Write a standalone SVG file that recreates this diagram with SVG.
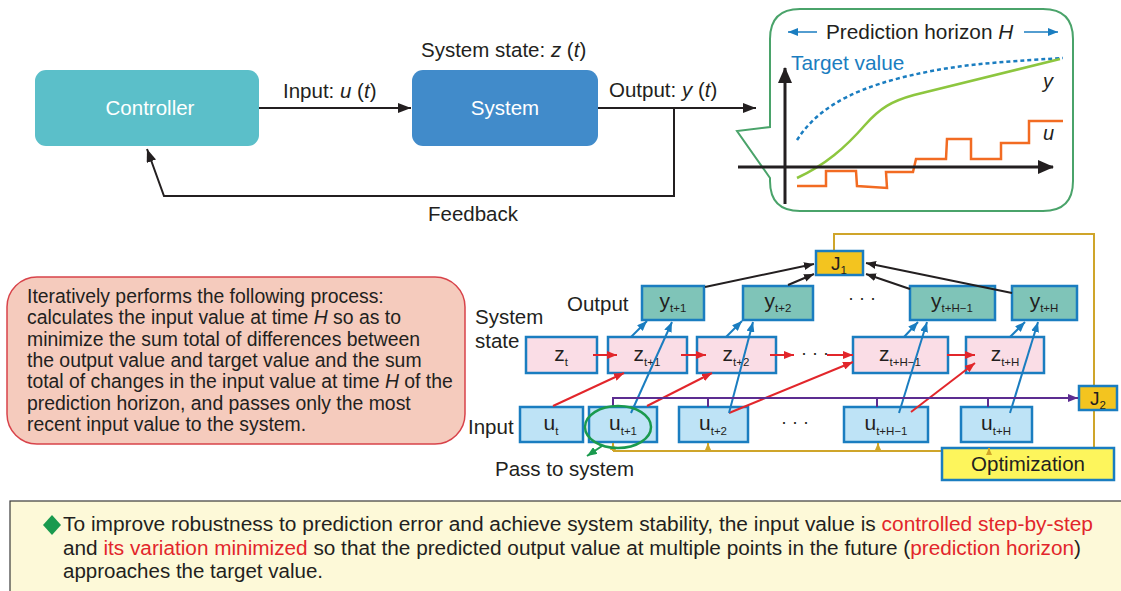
<svg xmlns="http://www.w3.org/2000/svg" width="1121" height="591" viewBox="0 0 1121 591">
<style>
text{font-family:"Liberation Sans",Arial,sans-serif;fill:#231f20}
.lbl{font-size:20.5px}
.it{font-style:italic}
.wh{fill:#fff;font-size:20.5px}
.bx{stroke:#1a7dc0;stroke-width:2.5}
.yb{fill:#7fc4b8}
.zb{fill:#fadde6}
.ub{fill:#bee3f6}
.jb{fill:#f3c41f}
.nt{font-size:21px;text-anchor:middle}
.sub{font-size:11.5px}
.ln{fill:none;stroke-width:2}
.k{stroke:#231f20}
.r{stroke:#e2262b}
.b{stroke:#1a7dc0}
.p{stroke:#5c2d91}
.g{stroke:#cfa52a}
.body{font-size:19.4px}
.note{font-size:20px}
.red{fill:#e2262b}
</style>
<defs>
<marker id="mk" markerWidth="13" markerHeight="10" refX="13" refY="5" orient="auto" markerUnits="userSpaceOnUse"><path d="M0,0 L13,5 L0,10 z" fill="#231f20"/></marker>
<marker id="mkax" markerWidth="16" markerHeight="14" refX="15" refY="7" orient="auto" markerUnits="userSpaceOnUse"><path d="M0,0 L16,7 L0,14 z" fill="#231f20"/></marker>
<marker id="mk2" markerWidth="10" markerHeight="8" refX="10" refY="4" orient="auto" markerUnits="userSpaceOnUse"><path d="M0,0 L10,4 L0,8 z" fill="#231f20"/></marker>
<marker id="mr" markerWidth="10" markerHeight="8" refX="10" refY="4" orient="auto" markerUnits="userSpaceOnUse"><path d="M0,0 L10,4 L0,8 z" fill="#e2262b"/></marker>
<marker id="mb" markerWidth="10" markerHeight="8" refX="10" refY="4" orient="auto" markerUnits="userSpaceOnUse"><path d="M0,0 L10,4 L0,8 z" fill="#1a7dc0"/></marker>
<marker id="mp" markerWidth="10" markerHeight="8" refX="10" refY="4" orient="auto" markerUnits="userSpaceOnUse"><path d="M0,0 L10,4 L0,8 z" fill="#5c2d91"/></marker>
<marker id="mg" markerWidth="7" markerHeight="6" refX="7" refY="3" orient="auto" markerUnits="userSpaceOnUse"><path d="M0,0 L7,3 L0,6 z" fill="#cfa52a"/></marker>
<marker id="mgr" markerWidth="10" markerHeight="8" refX="10" refY="4" orient="auto" markerUnits="userSpaceOnUse"><path d="M0,0 L10,4 L0,8 z" fill="#1a9a4e"/></marker>
</defs>
<rect width="1121" height="591" fill="#fff"/>

<!-- top connectors -->
<g id="top-connectors" class="ln">
<line x1="259" y1="108" x2="411" y2="108" class="k" stroke-width="2" marker-end="url(#mk)"/>
<line x1="598" y1="108" x2="756" y2="108" class="k" stroke-width="2" marker-end="url(#mk)"/>
<polyline points="674,108 674,196 164,196 147,149" class="k" stroke-width="2" fill="none" marker-end="url(#mk)"/>
</g>
<text x="283" y="98" class="lbl">Input: <tspan class="it">u</tspan> (<tspan class="it">t</tspan>)</text>
<text x="421" y="57" class="lbl">System state: <tspan class="it">z</tspan> (<tspan class="it">t</tspan>)</text>
<text x="609" y="97" class="lbl">Output: <tspan class="it">y</tspan> (<tspan class="it">t</tspan>)</text>
<text x="473" y="221" class="lbl" text-anchor="middle">Feedback</text>

<g id="controller">
<rect x="35" y="70" width="224" height="76" rx="11" fill="#5bbfc9"/>
<text x="150" y="115" class="wh" text-anchor="middle">Controller</text>
</g>
<g id="system">
<rect x="412" y="70" width="186" height="76" rx="11" fill="#418bca"/>
<text x="505" y="115" class="wh" text-anchor="middle">System</text>
</g>

<!-- chart callout -->
<g id="chart">
<path d="M800,9 H1043 Q1073,9 1073,39 V181 Q1073,211 1043,211 H800 Q770,211 770,181 V178 L737,131 L770,127 V39 Q770,9 800,9 Z" fill="#fff" stroke="#4aa36a" stroke-width="2"/>
<text x="826" y="39" font-size="20.8">Prediction horizon <tspan class="it">H</tspan></text>
<line x1="817" y1="32" x2="788" y2="32" class="b" stroke-width="1.5" marker-end="url(#mb)"/>
<line x1="1024" y1="32" x2="1058" y2="32" class="b" stroke-width="1.5" marker-end="url(#mb)"/>
<text x="791" y="70" font-size="20.8" style="fill:#1a7dc0">Target value</text>
<path d="M797,140 C815,112 845,92 900,78 S1000,62 1063,58" fill="none" stroke="#1a7dc0" stroke-width="2.5" stroke-dasharray="4 3"/>
<path d="M797,178 C825,165 845,148 865,125 C880,108 892,101 914,95 L1060,59" fill="none" stroke="#8dc63f" stroke-width="2.5"/>
<polyline points="797,186 826,186 826,171 856,171 857,186 887,188 886,172 913,172 916,159 946,159 947,139 971,139 971,159 1001,159 1001,143 1029,143 1029,121 1063,121" fill="none" stroke="#f26b22" stroke-width="2.5"/>
<line x1="785" y1="204" x2="785" y2="68" stroke="#231f20" stroke-width="3" marker-end="url(#mkax)"/>
<line x1="738" y1="167" x2="1053" y2="167" stroke="#231f20" stroke-width="3" marker-end="url(#mkax)"/>
<text x="1043" y="88" font-size="20" class="it">y</text>
<text x="1043" y="140" font-size="20" class="it">u</text>
</g>

<!-- left explanation -->
<g id="explanation">
<rect x="7" y="277" width="458" height="167" rx="30" fill="#f5cbbd" stroke="#d8434a" stroke-width="1.5"/>
<text class="body">
<tspan x="27" y="303">Iteratively performs the following process:</tspan>
<tspan x="27" y="324">calculates the input value at time <tspan class="it">H</tspan> so as to</tspan>
<tspan x="27" y="346">minimize the sum total of differences between</tspan>
<tspan x="27" y="367">the output value and target value and the sum</tspan>
<tspan x="27" y="388">total of changes in the input value at time <tspan class="it">H</tspan> of the</tspan>
<tspan x="27" y="410">prediction horizon, and passes only the most</tspan>
<tspan x="27" y="431">recent input value to the system.</tspan>
</text>
</g>

<!-- row labels -->
<text x="567" y="311" class="lbl">Output</text>
<text x="475" y="324" class="lbl">System</text>
<text x="475" y="348" class="lbl">state</text>
<text x="468" y="434" class="lbl">Input</text>
<text x="495" y="476" class="lbl">Pass to system</text>
<text x="862" y="304" font-size="18" text-anchor="middle">· · ·</text>
<text x="795" y="428" font-size="18" text-anchor="middle">· · ·</text>
<text x="815" y="359" font-size="18" text-anchor="middle">· · ·</text>

<!-- gold loop line (behind boxes) -->
<g id="loop" class="ln">
<polyline points="834,251 834,234 1094,234 1094,448" class="g" stroke-width="2" fill="none"/>
<line x1="942" y1="451" x2="613" y2="451" class="g" stroke-width="2"/>
</g>

<!-- nodes -->
<g id="J1"><rect x="816" y="251" width="47" height="24" class="bx jb"/><text x="839" y="270" class="nt" style="font-size:19px">J<tspan dy="4" class="sub">1</tspan></text></g>
<g id="J2"><rect x="1079" y="386" width="38" height="24" class="bx jb"/><text x="1098" y="405" class="nt" style="font-size:19px">J<tspan dy="4" class="sub">2</tspan></text></g>
<g id="y1"><rect x="642" y="286" width="62" height="34" class="bx yb"/><text x="673" y="308" class="nt">y<tspan dy="4" class="sub">t+1</tspan></text></g>
<g id="y2"><rect x="743" y="286" width="70" height="34" class="bx yb"/><text x="778" y="308" class="nt">y<tspan dy="4" class="sub">t+2</tspan></text></g>
<g id="yH1"><rect x="910" y="286" width="85" height="34" class="bx yb"/><text x="952" y="308" class="nt">y<tspan dy="4" class="sub">t+H−1</tspan></text></g>
<g id="yH"><rect x="1012" y="286" width="65" height="34" class="bx yb"/><text x="1044" y="308" class="nt">y<tspan dy="4" class="sub">t+H</tspan></text></g>
<g id="z0"><rect x="526" y="337" width="71" height="36" class="bx zb"/><text x="561" y="361" class="nt">z<tspan dy="5" class="sub">t</tspan></text></g>
<g id="z1"><rect x="608" y="337" width="79" height="36" class="bx zb"/><text x="647" y="361" class="nt">z<tspan dy="5" class="sub">t+1</tspan></text></g>
<g id="z2"><rect x="697" y="337" width="79" height="36" class="bx zb"/><text x="736" y="361" class="nt">z<tspan dy="5" class="sub">t+2</tspan></text></g>
<g id="zH1"><rect x="853" y="337" width="95" height="36" class="bx zb"/><text x="900" y="361" class="nt">z<tspan dy="5" class="sub">t+H−1</tspan></text></g>
<g id="zH"><rect x="966" y="337" width="78" height="36" class="bx zb"/><text x="1005" y="361" class="nt">z<tspan dy="5" class="sub">t+H</tspan></text></g>
<g id="u0"><rect x="520" y="407" width="63" height="35" class="bx ub"/><text x="551" y="430" class="nt">u<tspan dy="5" class="sub">t</tspan></text></g>
<g id="u1"><rect x="589" y="407" width="68" height="35" class="bx ub"/><text x="623" y="430" class="nt">u<tspan dy="5" class="sub">t+1</tspan></text></g>
<g id="u2"><rect x="679" y="407" width="69" height="35" class="bx ub"/><text x="713" y="430" class="nt">u<tspan dy="5" class="sub">t+2</tspan></text></g>
<g id="uH1"><rect x="844" y="407" width="84" height="35" class="bx ub"/><text x="886" y="430" class="nt">u<tspan dy="5" class="sub">t+H−1</tspan></text></g>
<g id="uH"><rect x="961" y="407" width="71" height="35" class="bx ub"/><text x="996" y="430" class="nt">u<tspan dy="5" class="sub">t+H</tspan></text></g>
<g id="optimization"><rect x="942" y="448" width="172" height="32" class="bx" fill="#fdf55c"/><text x="1028" y="471" class="nt" style="font-size:20.5px">Optimization</text></g>

<!-- connectors -->
<g id="connectors" class="ln">
<line x1="593" y1="355" x2="617" y2="355" class="r" marker-end="url(#mr)"/>
<line x1="681" y1="355" x2="706" y2="355" class="r" marker-end="url(#mr)"/>
<line x1="770" y1="355" x2="794" y2="355" class="r" marker-end="url(#mr)"/>
<line x1="827" y1="355" x2="853" y2="355" class="r" marker-end="url(#mr)"/>
<line x1="947" y1="355" x2="975" y2="355" class="r" marker-end="url(#mr)"/>
<line x1="553" y1="406" x2="624" y2="373" class="r" marker-end="url(#mr)"/>
<line x1="647" y1="406" x2="712" y2="373" class="r" marker-end="url(#mr)"/>
<line x1="729" y1="413" x2="853" y2="362" class="r" marker-end="url(#mr)"/>
<line x1="911" y1="412" x2="975" y2="363" class="r" marker-end="url(#mr)"/>
<line x1="631" y1="337" x2="647" y2="321" class="b" marker-end="url(#mb)"/>
<line x1="631" y1="413" x2="672" y2="322" class="b" marker-end="url(#mb)"/>
<line x1="726" y1="337" x2="742" y2="321" class="b" marker-end="url(#mb)"/>
<line x1="729" y1="413" x2="753" y2="322" class="b" marker-end="url(#mb)"/>
<line x1="904" y1="337" x2="918" y2="322" class="b" marker-end="url(#mb)"/>
<line x1="899" y1="413" x2="927" y2="322" class="b" marker-end="url(#mb)"/>
<line x1="1010" y1="337" x2="1025" y2="322" class="b" marker-end="url(#mb)"/>
<line x1="1010" y1="413" x2="1038" y2="322" class="b" marker-end="url(#mb)"/>
<line x1="705" y1="287" x2="814" y2="264" class="k" marker-end="url(#mk2)"/>
<line x1="788" y1="285" x2="814" y2="274" class="k" marker-end="url(#mk2)"/>
<line x1="910" y1="289" x2="866" y2="274" class="k" marker-end="url(#mk2)"/>
<line x1="1012" y1="293" x2="866" y2="263" class="k" marker-end="url(#mk2)"/>
<polyline points="613,407 613,398 1078,398" class="p" fill="none" marker-end="url(#mp)"/>
<line x1="708" y1="398" x2="708" y2="407" class="p"/>
<line x1="877" y1="398" x2="877" y2="407" class="p"/>
<line x1="988" y1="398" x2="988" y2="407" class="p"/>
<line x1="613" y1="451" x2="613" y2="443" class="g" marker-end="url(#mg)"/>
<line x1="708" y1="451" x2="708" y2="443" class="g" marker-end="url(#mg)"/>
<line x1="878" y1="451" x2="878" y2="443" class="g" marker-end="url(#mg)"/>
<line x1="989" y1="451" x2="989" y2="448" class="g" marker-end="url(#mg)"/>
<ellipse cx="618" cy="427" rx="33" ry="21" fill="none" stroke="#1a9a4e" stroke-width="2.5"/>
<line x1="602" y1="446" x2="587" y2="456" stroke="#1a9a4e" stroke-width="2" marker-end="url(#mgr)"/>
</g>

<!-- bottom note -->
<g id="note">
<rect x="10" y="501" width="1120" height="100" fill="#fdf9d8" stroke="#3a3a3a" stroke-width="1.2"/>
<path d="M52,515 L61,525 L52,535 L43,525 Z" fill="#1a9a4e"/>
<text x="63" y="531" class="note" textLength="1030" lengthAdjust="spacingAndGlyphs">To improve robustness to prediction error and achieve system stability, the input value is <tspan class="red">controlled step-by-step</tspan></text>
<text x="63" y="555" class="note" textLength="1018" lengthAdjust="spacingAndGlyphs">and <tspan class="red">its variation minimized</tspan> so that the predicted output value at multiple points in the future (<tspan class="red">prediction horizon</tspan>)</text>
<text x="63" y="578" class="note" textLength="260" lengthAdjust="spacingAndGlyphs">approaches the target value.</text>
</g>
</svg>
